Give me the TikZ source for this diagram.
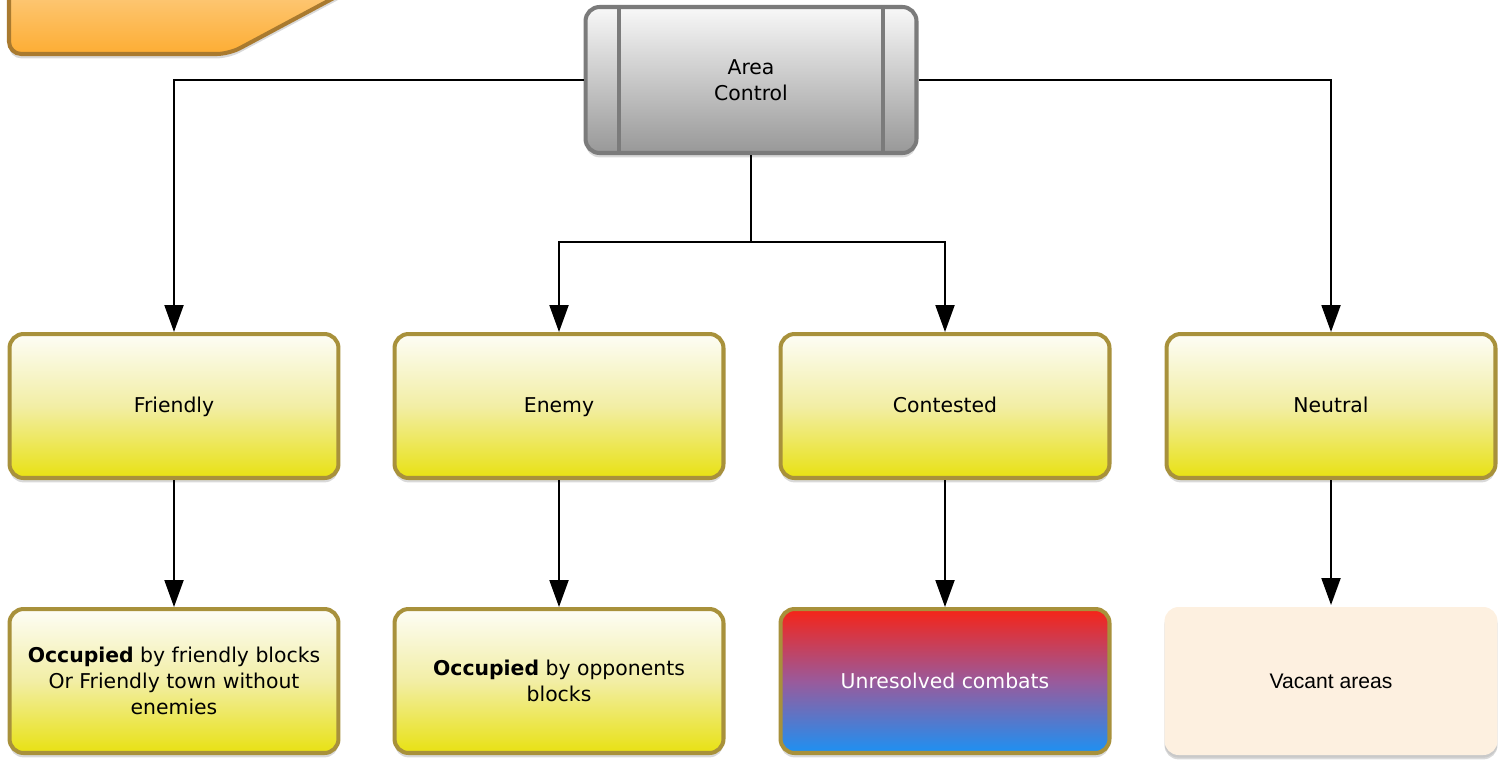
\documentclass[tikz,border=0pt]{standalone}
\usepackage{fontspec}
\setmainfont{DejaVu Sans}
\newfontfamily\vacfont{Liberation Sans}
\usetikzlibrary{arrows.meta,shadows,positioning}
%colours of the boxes
\definecolor{boxrim}{HTML}{A8913B}
\definecolor{yeltop}{HTML}{FDFDF6}
\definecolor{yelmid}{HTML}{F2EEA5}
\definecolor{yelbot}{HTML}{E8E112}
\definecolor{grytop}{HTML}{F8F8F8}
\definecolor{grybot}{HTML}{989898}
\definecolor{gryrim}{HTML}{7B7B7B}
\definecolor{combtop}{HTML}{F62417}
\definecolor{combmid}{HTML}{9A5A9B}
\definecolor{combbot}{HTML}{1C91F3}
\definecolor{vacant}{HTML}{FDF0E0}
\definecolor{orgtop}{HTML}{FDD290}
\definecolor{orgbot}{HTML}{FDAD33}
\definecolor{orgrim}{HTML}{A97A2F}
\tikzset{
  box/.style={rectangle, rounded corners=8pt, minimum width=6.58cm,
    minimum height=2.88cm, line width=2.3pt, draw=boxrim, align=center,
    font=\fontsize{11.6}{14.7}\selectfont,
    drop shadow={shadow xshift=0pt, shadow yshift=-2.5pt, opacity=0.3}},
  yel/.style={box, top color=yeltop, bottom color=yelbot, middle color=yelmid},
  state/.style={yel, text height=1.75ex, text depth=.45ex},
  conn/.style={line width=1.1pt, -{Triangle[width=10.8pt,length=15.3pt]}}
}

\begin{document}
\begin{tikzpicture}[x=0.02cm, y=-0.02cm]
  \useasboundingbox (0,0) rectangle (1506,761);
  %cut off tab in the corner
  \begin{scope}
    \clip (0,0) rectangle (1506,761);
    \draw[orgrim, line width=2.3pt, rounded corners=7pt, top color=orgtop,
      bottom color=orgbot,
      drop shadow={shadow xshift=0pt, shadow yshift=-2.5pt, opacity=0.3}]
      (9,-30) -- (9,54) -- (229,54) -- (386,-30) -- cycle;
  \end{scope}
  %root node
  \node[box, draw=gryrim, minimum width=6.62cm, minimum height=2.92cm,
    top color=grytop, bottom color=grybot] (AC) at (751,80) {Area\\Control};
  \draw[gryrim, line width=2.3pt] ([xshift=-2.64cm]AC.north) -- ([xshift=-2.64cm]AC.south);
  \draw[gryrim, line width=2.3pt] ([xshift=2.64cm]AC.north) -- ([xshift=2.64cm]AC.south);
  %insert area states
  \node[state] (Fr) at (174,406) {Friendly};
  \node[state] (En) at (559,406) {Enemy};
  \node[state] (Co) at (945,406) {Contested};
  \node[state] (Ne) at (1331,406) {Neutral};
  %insert what each state means
  \node[yel] (OccF) at (174,681) {\textbf{Occupied} by friendly blocks\\Or Friendly town without\\enemies};
  \node[yel] (OccE) at (559,681) {\textbf{Occupied} by opponents\\blocks};
  \node[box, top color=combtop, bottom color=combbot, middle color=combmid,
    text=white] (Unr) at (945,681) {Unresolved combats};
  \node[box, draw=none, fill=vacant, minimum width=6.66cm, minimum height=2.96cm,
    drop shadow={shadow xshift=0pt, shadow yshift=-1.5pt, opacity=0.18},
    font=\vacfont\fontsize{12}{14.7}\selectfont] (Vac) at (1331,681) {Vacant areas};
  %draw branches from the root
  \coordinate (split) at (751,242);
  \draw[conn] (AC.west) -| (Fr.north);
  \draw[conn] (AC.east) -| (Ne.north);
  \draw[line width=1.1pt] (AC.south) -- (split);
  \draw[conn] (split) -| (En.north);
  \draw[conn] (split) -| (Co.north);
  %draw arrows down to the meanings
  \draw[conn] (Fr.south) -- (OccF.north);
  \draw[conn] (En.south) -- (OccE.north);
  \draw[conn] (Co.south) -- (Unr.north);
  \draw[conn] (Ne.south) -- (Vac.north);
\end{tikzpicture}
\end{document}
